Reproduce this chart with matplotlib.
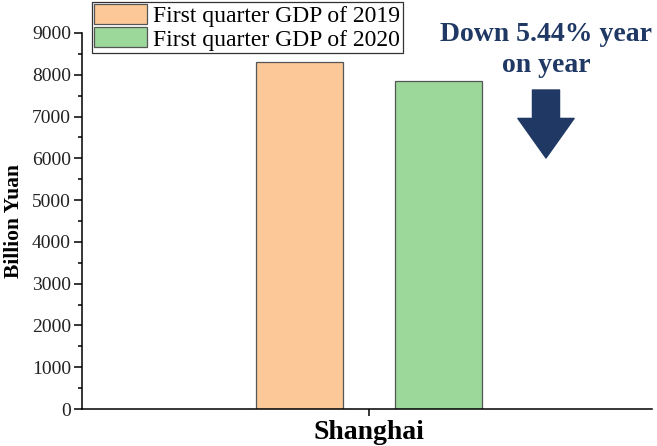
import numpy as np
import matplotlib
matplotlib.use("Agg")
import matplotlib.pyplot as plt
from matplotlib.ticker import MultipleLocator

plt.rcParams['font.family'] = ['Liberation Serif', 'DejaVu Serif']

# Data
cities = ["Shanghai"]
series_labels = ["First quarter GDP of 2019", "First quarter GDP of 2020"]
gdp_2019 = [8302.71]
gdp_2020 = [7856.88]
note_text = "Down 5.44% year\non year"

colors = ["#FCC897", "#9DD89B"]
navy = "#1F3864"

fig = plt.figure(figsize=(6.57, 4.46), dpi=100)
ax = fig.add_axes([82 / 657, 1 - 409 / 446, 570 / 657, 376 / 446])

x = np.arange(len(cities))
w = 0.29
off = 0.23
ax.bar(x - off, gdp_2019, w, color=colors[0], edgecolor="#555555", linewidth=0.9,
       label=series_labels[0])
ax.bar(x + off, gdp_2020, w, color=colors[1], edgecolor="#555555", linewidth=0.9,
       label=series_labels[1])

ax.set_xlim(-0.953, 0.94)
ax.set_ylim(0, 9000)
ax.yaxis.set_major_locator(MultipleLocator(1000))
ax.yaxis.set_minor_locator(MultipleLocator(500))
ax.set_xticks(x)
ax.set_xticklabels(cities, fontsize=20, fontweight="bold")

for s in ["top", "right"]:
    ax.spines[s].set_visible(False)
for s in ["left", "bottom"]:
    ax.spines[s].set_linewidth(1.1)

ax.tick_params(axis="y", which="major", direction="out", length=6, width=1.1,
               labelsize=14, labelcolor="#222222", pad=2)
ax.tick_params(axis="y", which="minor", direction="out", length=3, width=1.1)
ax.tick_params(axis="x", which="major", direction="out", length=5, width=1.1, pad=3)

ax.set_ylabel("Billion Yuan", fontsize=15.5, fontweight="bold")
ax.yaxis.set_label_coords(-0.102, 0.5)

leg = ax.legend(loc="upper left", bbox_to_anchor=(92 / 657, 1 - 2 / 446),
                bbox_transform=fig.transFigure, borderaxespad=0, fontsize=17,
                handlelength=2.25, handleheight=0.92, handletextpad=0.25,
                labelspacing=0.0, borderpad=0.1, fancybox=False, framealpha=1)
leg.get_frame().set_edgecolor("#333333")
leg.get_frame().set_linewidth(0.9)

fig.text(546 / 657, 1 - 22 / 446, note_text, ha="center", va="top", fontsize=20,
         fontweight="bold", color=navy, linespacing=1.3)

ax.annotate("", xy=(546, 446 - 158), xycoords="figure pixels",
            xytext=(546, 446 - 90), textcoords="figure pixels",
            arrowprops=dict(arrowstyle="simple,head_length=0.95,head_width=1.35,tail_width=0.65",
                            mutation_scale=30, fc=navy, ec=navy, shrinkA=0, shrinkB=0))

fig.savefig("out.png", dpi=100)
